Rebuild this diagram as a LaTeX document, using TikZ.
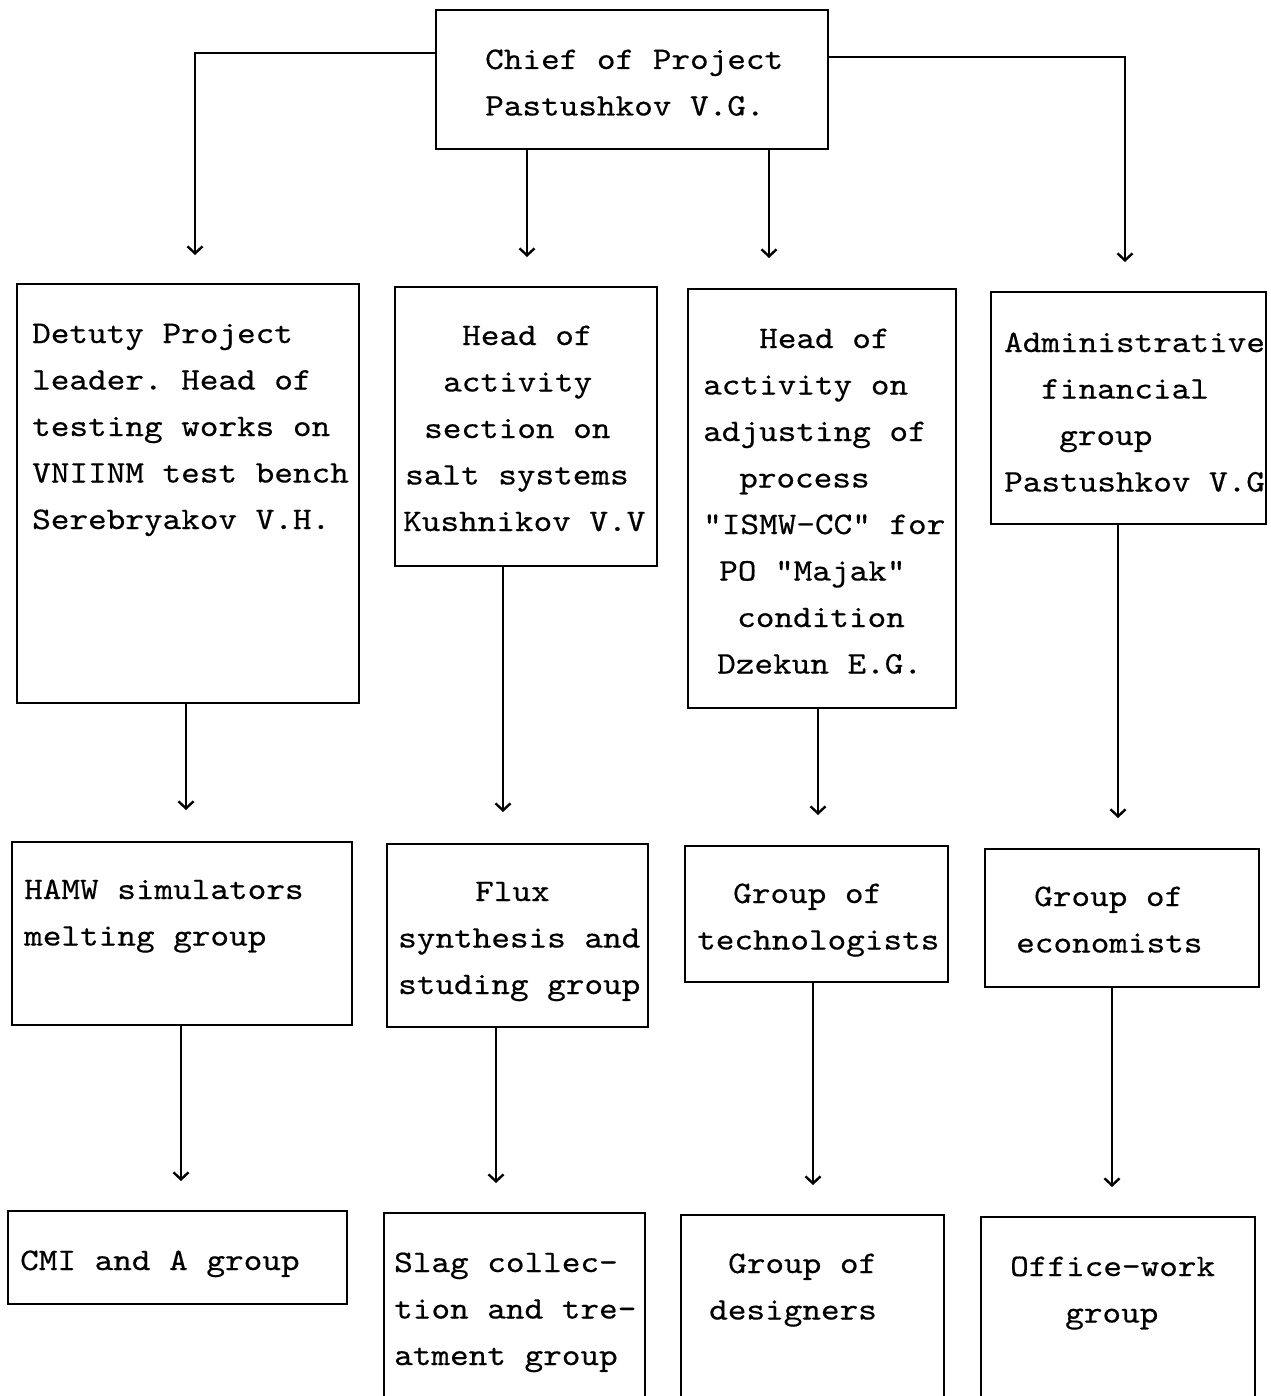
\documentclass[tikz,border=0pt]{standalone}
\usepackage{fontspec}
\newfontfamily\monofam{lmmono10-regular.otf}[FakeStretch=1.13,FakeBold=0.45]
\usetikzlibrary{arrows.meta,fit}
\frenchspacing
\begin{document}
\begin{tikzpicture}[x=1pt,y=-1pt,
  box/.style={draw,line width=2.6pt,inner sep=0pt,rectangle},
  txt/.style={font=\monofam\fontsize{31.4}{46.5}\selectfont\frenchspacing,align=left,inner sep=0pt,anchor=base west},
  arr/.style={line width=2.6pt,-{Straight Barb[length=7pt,width=15pt,line width=2.4pt]}}]
\useasboundingbox (0,0) rectangle (1270,1396);
\clip (0,0) rectangle (1270,1396);
% boxes
\node[box,fit={(436,10) (828,149)}] (chief) {};
\node[box,fit={(17,284) (359,703)}] (b1) {};
\node[box,fit={(395,287) (657,566)}] (b2) {};
\node[box,fit={(688,289) (956,708)}] (b3) {};
\node[box,fit={(991,292) (1266,524)}] (b4) {};
\node[box,fit={(12,842) (352,1025)}] (c1) {};
\node[box,fit={(387,844) (648,1027)}] (c2) {};
\node[box,fit={(685,846) (948,982)}] (c3) {};
\node[box,fit={(985,849) (1259,987)}] (c4) {};
\node[box,fit={(8,1211) (347,1304)}] (d1) {};
\node[box,fit={(384,1213) (645,1430)}] (d2) {};
\node[box,fit={(681,1215) (944,1430)}] (d3) {};
\node[box,fit={(981,1217) (1255,1430)}] (d4) {};
% texts (anchor = baseline of the last line)
\node[txt] (chieft) at (485,115.5) {Chief of Project\\Pastushkov V.G.};
\node[txt] (b1t) at (32,529) {Detuty Project\\leader. Head of\\testing works on\\VNIINM test bench\\Serebryakov V.H.};
\node[txt] (b2t) at (403,531) {\hspace*{59pt}Head of\\\hspace*{40pt}activity\\\hspace*{21pt}section on\\\hspace*{2pt}salt systems\\Kushnikov V.V};
\node[txt] (b3t) at (703,673.5) {\hspace*{56pt}Head of\\activity on\\adjusting of\\\hspace*{36pt}process\\"ISMW-CC" for\\\hspace*{16pt}PO "Majak"\\\hspace*{34pt}condition\\\hspace*{14pt}Dzekun E.G.};
\node[txt] (b4t) at (1004,491.5) {Administrative\\\hspace*{37pt}financial\\\hspace*{55pt}group\\Pastushkov V.G};
\node[txt] (c1t) at (24,945.5) {HAMW simulators\\melting group};
\node[txt] (c2t) at (398,994) {\hspace*{77pt}Flux\\synthesis and\\studing group};
\node[txt] (c3t) at (697,949.5) {\hspace*{36pt}Group of\\technologists};
\node[txt] (c4t) at (1016,952.5) {\hspace*{18pt}Group of\\economists};
\node[txt] (d1t) at (20,1270) {CMI and A group};
\node[txt] (d2t) at (394,1365) {Slag collec-\\tion and tre-\\atment group};
\node[txt] (d3t) at (709,1319.5) {\hspace*{19pt}Group of\\designers};
\node[txt] (d4t) at (1010,1322.5) {Office-work\\\hspace*{55pt}group};
% arrow ends
\coordinate (t1) at (195,255);
\coordinate (t2) at (527,257);
\coordinate (t3) at (769,258);
\coordinate (t4) at (1125,262);
\coordinate (a1) at (186,810);
\coordinate (a2) at (503,812);
\coordinate (a3) at (818,815);
\coordinate (a4) at (1118,818);
\coordinate (e1) at (181,1181);
\coordinate (e2) at (496,1183);
\coordinate (e3) at (813,1185);
\coordinate (e4) at (1112,1187);
% connectors
\draw[arr] (chief.west |- 0,53) -| (t1);
\draw[arr] (chief.south -| t2) -- (t2);
\draw[arr] (chief.south -| t3) -- (t3);
\draw[arr] (chief.east |- 0,57) -| (t4);
\draw[arr] (b1.south -| a1) -- (a1);
\draw[arr] (b2.south -| a2) -- (a2);
\draw[arr] (b3.south -| a3) -- (a3);
\draw[arr] (b4.south -| a4) -- (a4);
\draw[arr] (c1.south -| e1) -- (e1);
\draw[arr] (c2.south -| e2) -- (e2);
\draw[arr] (c3.south -| e3) -- (e3);
\draw[arr] (c4.south -| e4) -- (e4);
\end{tikzpicture}
\end{document}
